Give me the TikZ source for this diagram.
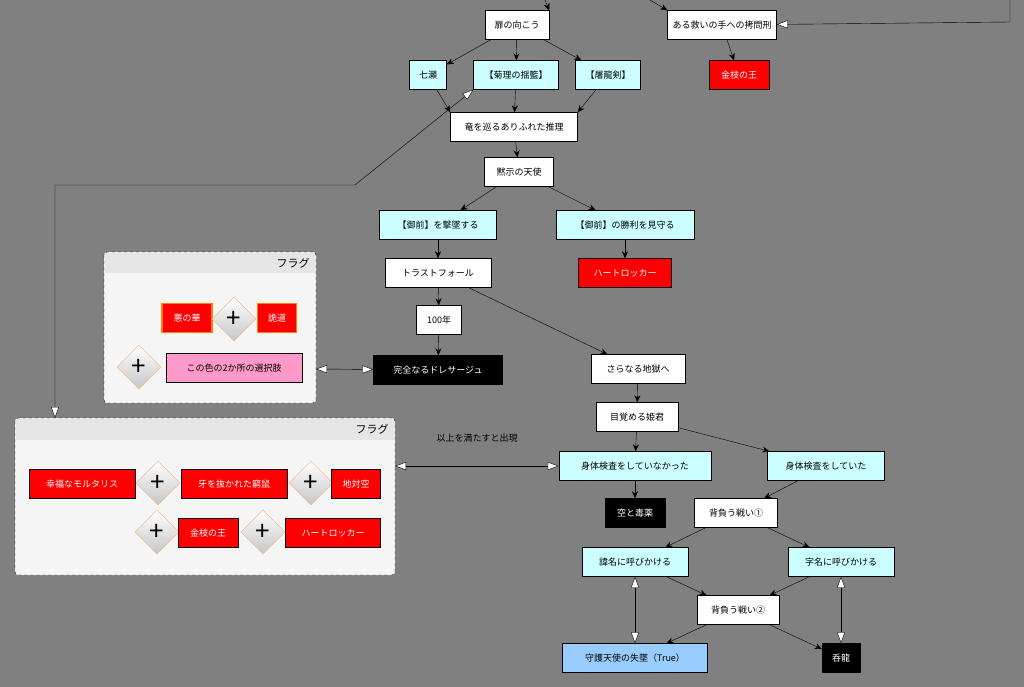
\documentclass[tikz,border=0pt]{standalone}
\usepackage{fontspec}
\setmainfont{Noto Sans CJK JP}
\usetikzlibrary{arrows.meta,shapes.geometric}
\definecolor{bg}{HTML}{808080}
\definecolor{cy}{HTML}{CCFFFF}
\definecolor{lb}{HTML}{99CCFF}
\definecolor{pk}{HTML}{FF99CC}
\tikzset{
  box/.style={draw=black, fill=white, minimum height=29pt, inner sep=2pt, font=\fontsize{9}{10}\selectfont},
  cbox/.style={box, fill=cy},
  rbox/.style={box, fill=red, text=white},
  obox/.style={rbox, draw=orange, line width=1.5pt},
  kbox/.style={box, fill=black, text=white},
  plus/.style={diamond, draw=orange!70!brown!60, top color=white, bottom color=gray!45, minimum size=44pt, inner sep=0pt, font=\fontsize{26}{26}\selectfont},
  grp/.style={draw=black, dashed, fill=gray!8, rounded corners=3pt},
  arr/.style={-{Stealth[length=7pt,width=6pt]}, black, thin},
  oarr/.style={{Triangle[open,fill=white,length=11pt,width=8pt]}-{Triangle[open,fill=white,length=11pt,width=8pt]}, black, thin},
}
\begin{document}
\begin{tikzpicture}[x=1pt,y=-1pt]
\fill[bg] (0,0) rectangle (1024,687);
\useasboundingbox (0,0) rectangle (1024,687);

% flag groups
\draw[grp] (104,252) rectangle (316,403);
\fill[gray!20] (105,253) rectangle (315,273);
\node[font=\fontsize{11}{12}\selectfont] (f1) at (293,263) {フラグ};
\draw[grp] (15,418) rectangle (395,575);
\fill[gray!20] (16,419) rectangle (394,440);
\node[font=\fontsize{11}{12}\selectfont] (f2) at (372,429) {フラグ};
\coordinate (g1) at (316,369);
\coordinate (g2) at (395,466);
\coordinate (g2top) at (55,418);

\node[obox, minimum width=50pt] (akunohana) at (187,318) {悪の華};
\node[plus] (p1) at (234,319) {+};
\node[obox, minimum width=39pt] (kidou) at (277,318) {詭道};
\node[plus] (p2) at (139,367) {+};
\node[box, fill=pk, minimum width=136pt] (sentaku) at (234,368) {この色の2か所の選択肢};

\node[rbox, minimum width=106pt] (koufuku) at (82,484) {幸福なモルタリス};
\node[plus] (p3) at (158,483) {+};
\node[rbox, minimum width=106pt] (kyuuso) at (234,484) {牙を抜かれた窮鼠};
\node[plus] (p4) at (311,483) {+};
\node[rbox, minimum width=49pt] (taikuu) at (356,484) {地対空};
\node[plus] (p5) at (157,532) {+};
\node[rbox, minimum width=60pt] (kinshi2) at (208,533) {金枝の王};
\node[plus] (p6) at (263,532) {+};
\node[rbox, minimum width=95pt] (hurt2) at (333,533) {ハートロッカー};

% main flow
\node[box, minimum width=64pt] (tobira) at (517,25) {扉の向こう};
\node[box, minimum width=109pt] (goumon) at (722,25) {ある救いの手への拷問刑};
\node[rbox, minimum width=60pt] (kinshi) at (739,75) {金枝の王};
\node[cbox, minimum width=37pt] (nanase) at (428,75) {七瀬};
\node[cbox, minimum width=85pt] (kukuri) at (516,75) {【菊理の揺籃】};
\node[cbox, minimum width=65pt] (toryuu) at (608,75) {【屠龍剣】};
\node[box, minimum width=127pt] (ryuu) at (514,127) {竜を巡るありふれた推理};
\node[box, minimum width=69pt] (mokuji) at (519,172) {黙示の天使};
\node[cbox, minimum width=117pt] (gekitsui) at (438,225) {【御前】を撃墜する};
\node[cbox, minimum width=138pt] (mimamoru) at (625,225) {【御前】の勝利を見守る};
\node[box, minimum width=106pt] (trust) at (438,273) {トラストフォール};
\node[rbox, minimum width=93pt] (hurt) at (625,273) {ハートロッカー};
\node[box, minimum width=45pt] (hyaku) at (439,320) {100年};
\node[kbox, minimum width=129pt] (dressage) at (438,370) {完全なるドレサージュ};
\node[box, minimum width=94pt] (jigoku) at (638,369) {さらなる地獄へ};
\node[box, minimum width=82pt] (himegimi) at (637,417) {目覚める姫君};
\node[cbox, minimum width=152pt] (nakatta) at (635,466) {身体検査をしていなかった};
\node[cbox, minimum width=117pt] (shiteita) at (826,466) {身体検査をしていた};
\node[kbox, minimum width=60pt] (doku) at (635,513) {空と毒薬};
\node[box, minimum width=83pt] (seou1) at (736,513) {背負う戦い①};
\node[cbox, minimum width=106pt] (imina) at (635,562) {諱名に呼びかける};
\node[cbox, minimum width=106pt] (azana) at (841,562) {字名に呼びかける};
\node[box, minimum width=82pt] (seou2) at (738,610) {背負う戦い②};
\node[box, fill=lb, minimum width=145pt] (shugo) at (635,658) {守護天使の失墜（True）};
\node[kbox, minimum width=38pt] (donryuu) at (841,658) {呑龍};
\node[font=\fontsize{9}{10}\selectfont] (label) at (477,438) {以上を満たすと出現};

\coordinate (in1) at (545,0);
\coordinate (in2) at (650,0);
\coordinate (in3) at (1010,0);

\draw[arr] (in1) -- (tobira.north east);
\draw[arr] (in2) -- (goumon.north west);
\draw[{Triangle[open,fill=white,length=11pt,width=8pt]}-] (goumon) -- (1010,22) -- (in3);
\draw[arr] (goumon) -- (kinshi);
\draw[arr] (tobira) -- (nanase);
\draw[arr] (tobira) -- (kukuri);
\draw[arr] (tobira) -- (toryuu);
\draw[arr] (nanase) -- (ryuu.north west);
\draw[arr] (kukuri) -- (ryuu);
\draw[arr] (toryuu) -- (ryuu.north east);
\draw[arr] (ryuu) -- (mokuji);
\draw[arr] (mokuji) -- (gekitsui);
\draw[arr] (mokuji) -- (mimamoru);
\draw[arr] (gekitsui) -- (trust);
\draw[arr] (mimamoru) -- (hurt);
\draw[arr] (trust) -- (hyaku);
\draw[arr] (hyaku) -- (dressage);
\draw[arr] (trust) -- (jigoku);
\draw[arr] (jigoku) -- (himegimi);
\draw[arr] (himegimi) -- (nakatta);
\draw[arr] (himegimi) -- (shiteita);
\draw[arr] (nakatta) -- (doku);
\draw[arr] (shiteita) -- (seou1);
\draw[arr] (seou1) -- (imina);
\draw[arr] (seou1) -- (azana);
\draw[arr] (imina) -- (seou2);
\draw[arr] (azana) -- (seou2);
\draw[arr] (seou2) -- (shugo);
\draw[arr] (seou2) -- (donryuu);
\draw[oarr] (imina) -- (shugo);
\draw[oarr] (azana) -- (donryuu);
\draw[oarr] (g1) -- (dressage);
\draw[oarr] (g2) -- (nakatta);
\draw[oarr] (g2top) -- (55,185) -- (355,185) -- (kukuri.south west);
\end{tikzpicture}
\end{document}
